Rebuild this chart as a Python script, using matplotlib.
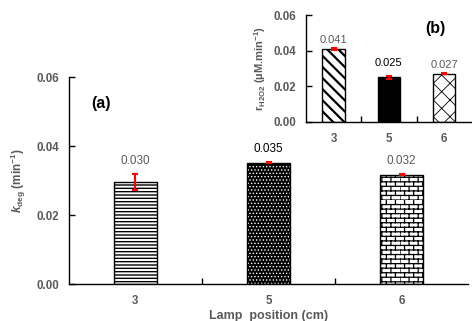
import warnings
import numpy as np
import matplotlib
matplotlib.use("Agg")
import matplotlib.pyplot as plt
from matplotlib import hatch as mhatch
from matplotlib.path import Path

warnings.filterwarnings('ignore')

plt.rcParams['font.family'] = ['Liberation Sans', 'DejaVu Sans']
plt.rcParams['mathtext.fontset'] = 'custom'
plt.rcParams['mathtext.rm'] = 'Liberation Sans:bold'
plt.rcParams['mathtext.bf'] = 'Liberation Sans:bold'
plt.rcParams['mathtext.it'] = 'Liberation Sans:italic:bold'

# data
positions = ['3', '5', '6']
kdeg = [0.0296, 0.0352, 0.0317]
kdeg_err = [0.0023, 0.0002, 0.0002]
kdeg_lbl = ['0.030', '0.035', '0.032']
rh2o2 = [0.0410, 0.0250, 0.0272]
rh2o2_err = [0.0005, 0.0009, 0.0005]
rh2o2_lbl = ['0.041', '0.025', '0.027']
lbl_col = ['#595959', 'black', '#595959']

grey = '#595959'


# brick hatch, like the excel pattern ('b')
class BrickHatch(mhatch.HatchPatternBase):
    def __init__(self, hatch, density):
        self.rows = 22 if 'b' in hatch else 0
        self.cols = 11
        self.num_vertices = self.rows * 2 + self.rows * self.cols * 2

    def set_vertices_and_codes(self, vertices, codes):
        k = 0
        for r in range(self.rows):
            y0 = r / self.rows
            y1 = (r + 1) / self.rows
            vertices[k] = (0, y0)
            vertices[k + 1] = (1, y0)
            codes[k] = Path.MOVETO
            codes[k + 1] = Path.LINETO
            k += 2
            off = 0.5 / self.cols if r % 2 else 0
            for c in range(self.cols):
                x = c / self.cols + off
                vertices[k] = (x, y0)
                vertices[k + 1] = (x, y1)
                codes[k] = Path.MOVETO
                codes[k + 1] = Path.LINETO
                k += 2


mhatch._hatch_types.append(BrickHatch)

fig = plt.figure(figsize=(4.72, 3.21), dpi=100)
ax = fig.add_axes([0.146, 0.115, 0.846, 0.645])
ins = fig.add_axes([0.648, 0.620, 0.352, 0.333])


def style(a, ymax):
    a.set_ylim(0, ymax)
    a.set_xlim(-0.5, 2.5)
    a.spines['top'].set_visible(False)
    a.spines['right'].set_visible(False)
    for s in ['left', 'bottom']:
        a.spines[s].set_color('black')
        a.spines[s].set_linewidth(1.0)
    a.set_yticks(np.arange(0, ymax + 0.001, 0.02))
    a.set_yticklabels(['%.2f' % v for v in np.arange(0, ymax + 0.001, 0.02)])
    a.tick_params(axis='y', direction='in', length=4, width=1, pad=7,
                  labelsize=8.3, labelcolor=grey)
    a.set_xticks(range(3))
    a.set_xticklabels(positions, fontweight='bold')
    a.tick_params(axis='x', length=0, pad=8, labelsize=8.3, labelcolor=grey)
    a.set_xticks([0.5, 1.5], minor=True)
    a.tick_params(axis='x', which='minor', direction='in', length=4, width=1)
    for t in a.get_yticklabels():
        t.set_fontweight('bold')


def hbar(a, x, h, w, face, hatch, hcol, hlw):
    b = a.bar(x, h, w, color=face, edgecolor=hcol, hatch=hatch, linewidth=0)[0]
    try:
        b.set_hatch_linewidth(hlw)
    except AttributeError:
        pass
    a.bar(x, h, w, fill=False, edgecolor='black', linewidth=1.0)


# main chart
style(ax, 0.06)
hbar(ax, 0, kdeg[0], 0.32, 'white', '-----', 'black', 1.0)
hbar(ax, 1, kdeg[1], 0.32, 'black', '.....', 'white', 0.6)
hbar(ax, 2, kdeg[2], 0.32, 'white', 'b', 'black', 0.9)
ax.errorbar(range(3), kdeg, yerr=kdeg_err, fmt='none', ecolor='red',
            elinewidth=1.5, capsize=2.5, capthick=1.5)
for i in range(3):
    ax.annotate(kdeg_lbl[i], (i, kdeg[i] + kdeg_err[i]), xytext=(0, 5),
                textcoords='offset points', ha='center', va='bottom',
                fontsize=8.5, color=lbl_col[i])
ax.text(0.055, 0.87, '(a)', transform=ax.transAxes, fontsize=11.5,
        fontweight='bold', va='center')
ax.set_ylabel(r'$\mathit{k}_{\mathrm{deg}}$ $\mathrm{(min^{-1})}$', fontsize=8.5,
              color=grey, labelpad=6)
ax.set_xlabel('Lamp  position (cm)', fontsize=9, fontweight='bold', color=grey,
              labelpad=2)

# inset
style(ins, 0.06)
ins.patch.set_alpha(0)
hbar(ins, 0, rh2o2[0], 0.4, 'white', '\\\\\\', 'black', 1.6)
hbar(ins, 1, rh2o2[1], 0.4, 'black', None, 'black', 1.0)
hbar(ins, 2, rh2o2[2], 0.4, 'white', 'xx', 'black', 0.6)
ins.errorbar(range(3), rh2o2, yerr=rh2o2_err, fmt='none', ecolor='red',
             elinewidth=1.5, capsize=2, capthick=1.5)
offs = [2, 6, 2]
for i in range(3):
    ins.annotate(rh2o2_lbl[i], (i, rh2o2[i] + rh2o2_err[i]), xytext=(0, offs[i]),
                 textcoords='offset points', ha='center', va='bottom',
                 fontsize=8, color=lbl_col[i])
ins.text(0.72, 0.87, '(b)', transform=ins.transAxes, fontsize=11.5,
         fontweight='bold', va='center')
ins.set_ylabel(r'r$_{\mathrm{H2O2}}$ (µM.min$^{\mathrm{-1}}$)', fontsize=8,
               fontweight='bold', color=grey, labelpad=4)

fig.savefig('out.png', dpi=100)
